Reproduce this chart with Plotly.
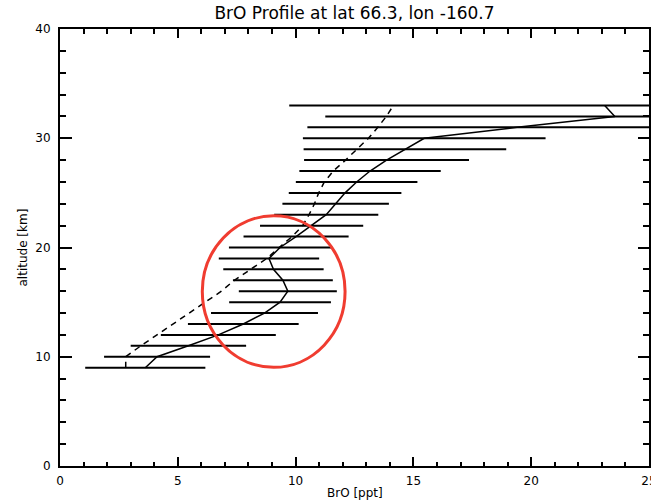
import plotly.graph_objects as go

# altitude levels [km]
altitude = [9, 10, 11, 12, 13, 14, 15, 16, 17, 18, 19, 20, 21, 22, 23, 24, 25,
            26, 27, 28, 29, 30, 31, 32, 33]
# retrieved BrO profile [ppt] (solid)
bro_retrieved = [3.62, 4.12, 5.45, 6.72, 7.78, 8.68, 9.34, 9.67, 9.46, 9.06, 8.87,
                 9.34, 10.02, 10.68, 11.30, 11.70, 12.10, 12.59, 13.16, 13.86,
                 14.64, 15.46, 19.40, 23.55, 23.12]
# retrieval error [ppt] (horizontal bars, symmetric)
bro_error = [2.55, 2.25, 2.45, 2.44, 2.35, 2.27, 2.16, 2.08, 2.12, 2.13, 2.13,
             2.17, 2.23, 2.19, 2.21, 2.26, 2.39, 2.58, 3.00, 3.50, 4.30, 5.15,
             8.90, 12.29, 13.39]
# a priori profile [ppt] (dashed)
bro_apriori = [2.79, 2.79, 3.43, 4.12, 4.82, 5.50, 6.20, 6.85, 7.40, 8.10, 8.78,
               9.30, 9.85, 10.30, 10.57, 10.80, 10.98, 11.22, 11.60, 12.12, 12.60,
               13.09, 13.49, 13.85, 14.15]

x_ticks = [0, 5, 10, 15, 20, 25]
y_ticks = [0, 10, 20, 30, 40]

FONT = "DejaVu Sans"

fig = go.Figure()

fig.add_trace(go.Scatter(
    x=bro_retrieved, y=altitude, mode="lines",
    line=dict(color="black", width=1.5),
    error_x=dict(type="data", array=bro_error, symmetric=True,
                 color="black", thickness=2, width=0),
    showlegend=False,
))

fig.add_trace(go.Scatter(
    x=bro_apriori, y=altitude, mode="lines",
    line=dict(color="black", width=1.5, dash="6px,5px"),
    showlegend=False,
))

# red highlight circle
fig.add_shape(type="circle", xref="x", yref="y",
              x0=6.04, x1=12.10, y0=9.03, y1=22.90,
              line=dict(color="#f03c30", width=3))

axis_common = dict(
    showgrid=False, zeroline=False, showline=True, linecolor="black",
    linewidth=2, mirror="ticks", ticks="inside", tickcolor="black",
    tickwidth=1.5, tickfont=dict(family=FONT, size=12, color="black"),
    automargin=False, ticklabeloverflow="allow",
)

fig.update_xaxes(
    range=[0, 25], tickvals=x_ticks, ticktext=[str(v) for v in x_ticks],
    ticklen=9, ticklabelstandoff=3,
    minor=dict(dtick=1, ticks="inside", ticklen=4.5, tickwidth=1.5, tickcolor="black"),
    **axis_common,
)
fig.update_yaxes(
    range=[0, 40], tickvals=y_ticks, ticktext=[str(v) for v in y_ticks],
    ticklen=11.5, ticklabelstandoff=5,
    minor=dict(dtick=2, ticks="inside", ticklen=6, tickwidth=1.5, tickcolor="black"),
    **axis_common,
)

# axis titles
fig.add_annotation(text="BrO [ppt]", xref="paper", yref="paper", x=0.5, y=0,
                   yshift=-27, yanchor="middle", showarrow=False,
                   font=dict(family=FONT, size=12, color="black"))
fig.add_annotation(text="altitude [km]", xref="paper", yref="paper", x=0, y=0.5,
                   xshift=-38, xanchor="center", textangle=-90, showarrow=False,
                   font=dict(family=FONT, size=12, color="black"))

fig.update_layout(
    width=651, height=503,
    margin=dict(l=60, r=2, t=29, b=37, pad=0),
    paper_bgcolor="white", plot_bgcolor="white",
    title=dict(text="BrO Profile at lat 66.3, lon -160.7",
               font=dict(family=FONT, size=17, color="black"),
               x=0.5, xref="paper", xanchor="center",
               y=1 - 7 / 503, yref="container", yanchor="top"),
)

fig.write_html("out.html",
               config={"displayModeBar": False},
               post_script="document.body.style.margin='0';"
                           "document.body.style.overflow='hidden';")
